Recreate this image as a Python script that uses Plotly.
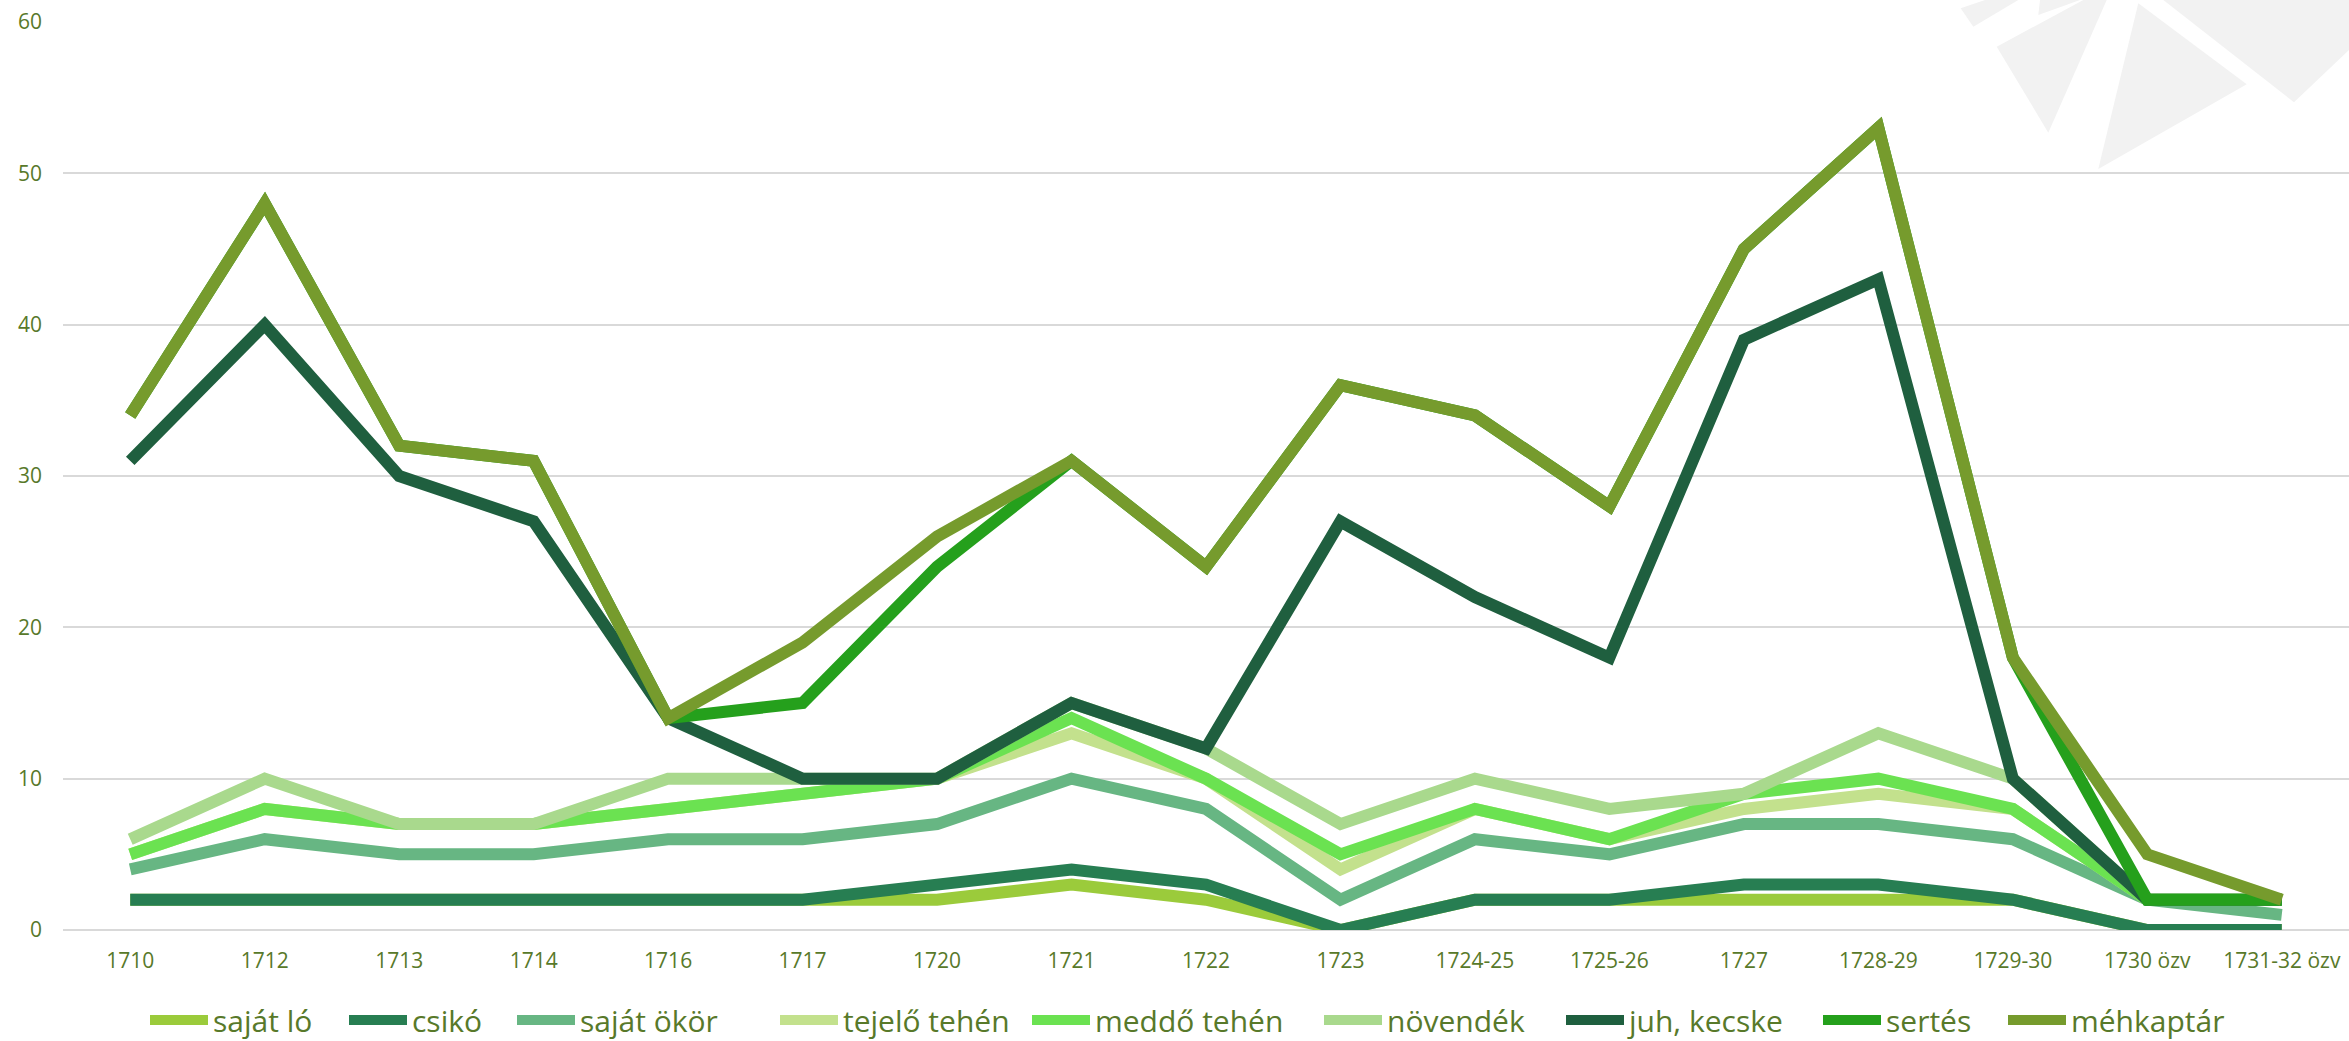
import plotly.graph_objects as go

categories = ["1710", "1712", "1713", "1714", "1716", "1717", "1720", "1721", "1722", "1723",
              "1724-25", "1725-26", "1727", "1728-29", "1729-30", "1730 özv", "1731-32 özv"]

sajat_lo    = [2, 2, 2, 2, 2, 2, 2, 3, 2, 0, 2, 2, 2, 2, 2, 0, 0]
csiko       = [2, 2, 2, 2, 2, 2, 3, 4, 3, 0, 2, 2, 3, 3, 2, 0, 0]
sajat_okor  = [4, 6, 5, 5, 6, 6, 7, 10, 8, 2, 6, 5, 7, 7, 6, 2, 1]
tejelo      = [5, 8, 7, 7, 8, 9, 10, 13, 10, 4, 8, 6, 8, 9, 8, 2, 2]
meddo       = [5, 8, 7, 7, 8, 9, 10, 14, 10, 5, 8, 6, 9, 10, 8, 2, 2]
novendek    = [6, 10, 7, 7, 10, 10, 10, 15, 12, 7, 10, 8, 9, 13, 10, 2, 2]
juh_kecske  = [31, 40, 30, 27, 14, 10, 10, 15, 12, 27, 22, 18, 39, 43, 10, 2, 2]
sertes      = [34, 48, 32, 31, 14, 15, 24, 31, 24, 36, 34, 28, 45, 53, 18, 2, 2]
mehkaptar   = [34, 48, 32, 31, 14, 19, 26, 31, 24, 36, 34, 28, 45, 53, 18, 5, 2]

series_names = ["saját ló", "csikó", "saját ökör", "tejelő tehén", "meddő tehén",
                "növendék", "juh, kecske", "sertés", "méhkaptár"]
series_values = [sajat_lo, csiko, sajat_okor, tejelo, meddo, novendek, juh_kecske, sertes, mehkaptar]
series_colors = ["#9BCB3B", "#277E52", "#67B683", "#C3E18D", "#6BE251",
                 "#A9D98D", "#1F5F3F", "#25A01C", "#769B2D"]

y_ticks = [0, 10, 20, 30, 40, 50, 60]

W, H = 2349, 1041
L, R, T, B = 63, 0, 22, 111
TEXT = "#58792A"
FONT = "Open Sans"
pw, ph = W - L - R, H - T - B

# left pixel edge of each legend entry (symbol start) in the reference
legend_px = [150, 349, 517, 780, 1032, 1324, 1566, 1823, 2008]
LEG_OFFSET = 5
LEG_CENTER_Y = 1020

fig = go.Figure()
layout_legends = {}
for i, (name, vals, col) in enumerate(zip(series_names, series_values, series_colors)):
    key = "legend" if i == 0 else f"legend{i + 1}"
    fig.add_trace(go.Scatter(x=categories, y=vals, name=name, mode="lines",
                             line=dict(color=col, width=12), legend=key))
    layout_legends[key] = dict(
        orientation="h", x=(legend_px[i] - LEG_OFFSET - L) / pw, xanchor="left",
        yref="container", y=(H - LEG_CENTER_Y) / H, yanchor="middle", itemwidth=58,
        font=dict(family=FONT, size=30, color=TEXT), bgcolor="rgba(0,0,0,0)",
        borderwidth=0)

# decorative background triangles (pixel polygons -> paper coords)
def px2paper(pts):
    return "M " + " L ".join(f"{(x - L) / pw:.5f},{(H - B - y) / ph:.5f}" for x, y in pts) + " Z"

polys = [
    [(1960.7, 8.3), (1973.3, 26.7), (2018.3, 0), (1985, 0)],
    [(2038.3, 15), (2040, 0), (2080, 0)],
    [(1996.7, 46.7), (2048.3, 132.7), (2106.7, 0), (2083.3, 0)],
    [(2138.3, 3.3), (2246.7, 84.3), (2098.3, 169)],
    [(2163.3, 0), (2294, 102.3), (2349, 50), (2349, 0)],
]
for p in polys:
    fig.add_shape(type="path", path=px2paper(p), xref="paper", yref="paper",
                  fillcolor="#F2F2F2", line=dict(width=0), layer="below")

fig.update_layout(
    width=W, height=H,
    margin=dict(l=L, r=R, t=T, b=B, pad=0),
    paper_bgcolor="white",
    plot_bgcolor="rgba(0,0,0,0)",
    font=dict(family=FONT, color=TEXT, size=21),
    showlegend=True,
    xaxis=dict(type="category", range=[-0.5, len(categories) - 0.5], showgrid=False,
               showline=False, zeroline=False, ticks="", ticklabelstandoff=16,
               tickfont=dict(family=FONT, size=21, color=TEXT)),
    yaxis=dict(range=[0, 60], tickvals=y_ticks, showgrid=True, gridcolor="#D9D9D9", gridwidth=2,
               zeroline=True, zerolinecolor="#D9D9D9", zerolinewidth=2, showline=False,
               ticks="", ticklabelstandoff=20,
               tickfont=dict(family=FONT, size=21, color=TEXT)),
    **layout_legends,
)

fig.write_html("out.html", config={"displayModeBar": False},
               post_script="document.body.style.margin='0';document.body.style.overflow='hidden';")
